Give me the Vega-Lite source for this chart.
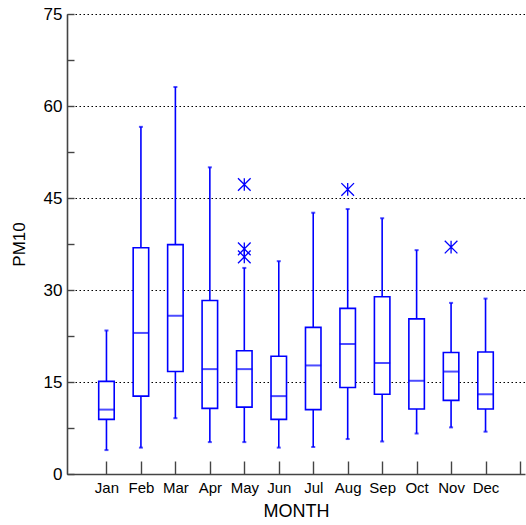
{
  "$schema": "https://vega.github.io/schema/vega-lite/v6.json",
  "width": 458,
  "height": 460,
  "autosize": "none",
  "padding": {"left": 67, "top": 14, "right": 1, "bottom": 51},
  "background": "white",
  "config": {
    "view": {"stroke": null},
    "font": "Liberation Sans",
    "axis": {
      "domainColor": "#444444",
      "domainWidth": 1.6,
      "tickColor": "#444444",
      "tickWidth": 1.4,
      "labelColor": "black",
      "titleColor": "black",
      "titleFontWeight": "normal",
      "labelFont": "Liberation Sans",
      "titleFont": "Liberation Sans"
    }
  },
  "datasets": {
    "boxes": [
      {"m": 1, "month": "Jan", "lo": 3.9, "q1": 8.9, "med": 10.5, "q3": 15.1, "hi": 23.4},
      {"m": 2, "month": "Feb", "lo": 4.3, "q1": 12.7, "med": 23.0, "q3": 36.9, "hi": 56.6},
      {"m": 3, "month": "Mar", "lo": 9.1, "q1": 16.7, "med": 25.8, "q3": 37.4, "hi": 63.1},
      {"m": 4, "month": "Apr", "lo": 5.2, "q1": 10.7, "med": 17.1, "q3": 28.3, "hi": 50.0},
      {"m": 5, "month": "May", "lo": 5.2, "q1": 10.9, "med": 17.1, "q3": 20.1, "hi": 33.6},
      {"m": 6, "month": "Jun", "lo": 4.3, "q1": 8.9, "med": 12.7, "q3": 19.2, "hi": 34.7},
      {"m": 7, "month": "Jul", "lo": 4.4, "q1": 10.5, "med": 17.7, "q3": 23.9, "hi": 42.6},
      {"m": 8, "month": "Aug", "lo": 5.7, "q1": 14.1, "med": 21.2, "q3": 27.0, "hi": 43.2},
      {"m": 9, "month": "Sep", "lo": 5.3, "q1": 13.0, "med": 18.1, "q3": 28.9, "hi": 41.7},
      {"m": 10, "month": "Oct", "lo": 6.6, "q1": 10.6, "med": 15.2, "q3": 25.3, "hi": 36.5},
      {"m": 11, "month": "Nov", "lo": 7.6, "q1": 12.0, "med": 16.7, "q3": 19.8, "hi": 27.9},
      {"m": 12, "month": "Dec", "lo": 6.9, "q1": 10.6, "med": 13.0, "q3": 19.9, "hi": 28.6}
    ],
    "outliers": [
      {"m": 5, "month": "May", "pm10": 47.2},
      {"m": 5, "month": "May", "pm10": 36.7},
      {"m": 5, "month": "May", "pm10": 35.4},
      {"m": 8, "month": "Aug", "pm10": 46.4},
      {"m": 11, "month": "Nov", "pm10": 37.0}
    ]
  },
  "encoding": {
    "x": {
      "field": "m",
      "type": "quantitative",
      "scale": {"domain": [0, 13], "nice": false, "zero": false},
      "axis": {
        "title": "MONTH",
        "titleFontSize": 18,
        "titlePadding": 7,
        "values": [1, 2, 3, 4, 5, 6, 7, 8, 9, 10, 11, 12, 13],
        "labelExpr": "['', 'Jan', 'Feb', 'Mar', 'Apr', 'May', 'Jun', 'Jul', 'Aug', 'Sep', 'Oct', 'Nov', 'Dec', ''][datum.value]",
        "labelFontSize": 15,
        "tickSize": -13,
        "labelPadding": 19,
        "grid": false
      }
    }
  },
  "layer": [
    {
      "data": {"name": "boxes"},
      "mark": {"type": "rule", "color": "#0000ff", "strokeWidth": 1.6},
      "encoding": {
        "y": {
          "field": "lo",
          "type": "quantitative",
          "scale": {"domain": [0, 75], "nice": false},
          "axis": {
            "title": "PM10",
            "titleFontSize": 17,
            "titlePadding": 15,
            "values": [0, 7.5, 15, 22.5, 30, 37.5, 45, 52.5, 60, 67.5, 75],
            "labelExpr": "datum.value % 15 === 0 ? datum.label : ''",
            "labelFontSize": 17,
            "tickSize": -7,
            "labelPadding": 12,
            "grid": true,
            "gridColor": "black",
            "gridDash": [1.5, 2.5],
            "gridWidth": 1.2,
            "gridOpacity": {"condition": {"test": "datum.value % 15 === 0", "value": 1}, "value": 0}
          }
        },
        "y2": {"field": "hi"}
      }
    },
    {
      "data": {"name": "boxes"},
      "mark": {"type": "bar", "size": 15.5, "fill": "white", "stroke": "#0000ff", "strokeWidth": 1.6},
      "encoding": {
        "y": {"field": "q1", "type": "quantitative"},
        "y2": {"field": "q3"}
      }
    },
    {
      "data": {"name": "boxes"},
      "mark": {"type": "tick", "orient": "horizontal", "size": 16, "thickness": 2, "color": "#0000ff"},
      "encoding": {
        "y": {"field": "med", "type": "quantitative"}
      }
    },
    {
      "data": {"name": "boxes"},
      "mark": {"type": "tick", "orient": "horizontal", "size": 4, "thickness": 2, "color": "#0000ff"},
      "encoding": {
        "y": {"field": "lo", "type": "quantitative"}
      }
    },
    {
      "data": {"name": "boxes"},
      "mark": {"type": "tick", "orient": "horizontal", "size": 4, "thickness": 2, "color": "#0000ff"},
      "encoding": {
        "y": {"field": "hi", "type": "quantitative"}
      }
    },
    {
      "data": {"name": "outliers"},
      "mark": {
        "type": "point",
        "shape": "M-1,-1L1,1M-1,1L1,-1M0,-1L0,1",
        "size": 160,
        "stroke": "#0000ff",
        "strokeWidth": 1.3,
        "filled": false,
        "opacity": 1
      },
      "encoding": {
        "y": {"field": "pm10", "type": "quantitative"}
      }
    }
  ]
}
